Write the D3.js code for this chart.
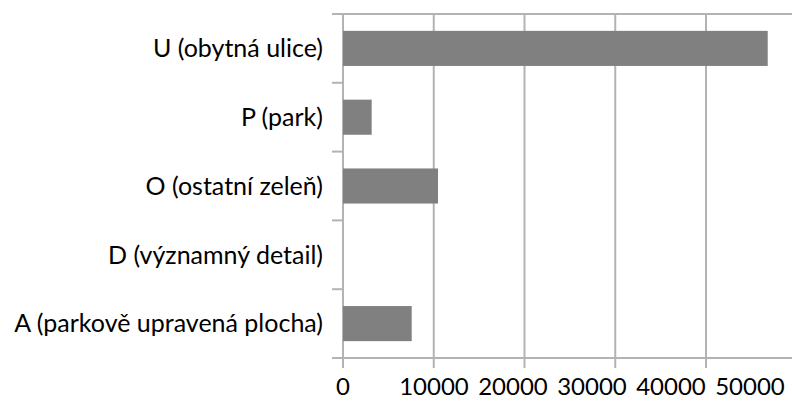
<!DOCTYPE html>
<html>
<head>
<meta charset="utf-8">
<script src="https://cdn.jsdelivr.net/npm/d3@7"></script>
<style>
  body { margin: 0; background: #fff; }
  text { font-family: Lato, "Open Sans", sans-serif; fill: #000; }
</style>
</head>
<body>
<div id="chart"></div>
<script>
// data
var categories = ["U (obytná ulice)", "P (park)", "O (ostatní zeleň)", "D (významný detail)", "A (parkově upravená plocha)"];
var values = [46800, 3160, 10470, 0, 7570];
var tickValues = [0, 10000, 20000, 30000, 40000, 50000];

var width = 792, height = 401;
var margin = { top: 14, left: 343, bottom: 43 };
var plotH = height - margin.top - margin.bottom;

var svg = d3.select("#chart").append("svg")
    .attr("width", width)
    .attr("height", height);

// scales
var x = d3.scaleLinear().domain([0, 50000]).range([margin.left, margin.left + 453.75]);
var y = d3.scaleBand().domain(categories).range([margin.top, margin.top + plotH]).paddingInner(0.49).paddingOuter(0.245);
var yEdges = d3.scaleLinear().domain([0, categories.length]).range([margin.top, margin.top + plotH]);
// tick labels in the picture sit closer together than the gridlines
var xLabel = d3.scaleLinear().domain([0, 10000, 50000]).range([343, 434, 750]);

var grey = "#b3b3b3";

// vertical gridlines
svg.append("g")
    .selectAll("line")
    .data(tickValues)
    .enter().append("line")
    .attr("x1", function (d) { return x(d); })
    .attr("x2", function (d) { return x(d); })
    .attr("y1", margin.top)
    .attr("y2", margin.top + plotH + 10)
    .attr("stroke", grey)
    .attr("stroke-width", 2);

// horizontal edge lines (top and axis)
svg.append("g")
    .selectAll("line")
    .data([0, categories.length])
    .enter().append("line")
    .attr("x1", 332)
    .attr("x2", width)
    .attr("y1", function (d) { return yEdges(d); })
    .attr("y2", function (d) { return yEdges(d); })
    .attr("stroke", grey)
    .attr("stroke-width", 2);

// category ticks
svg.append("g")
    .selectAll("line")
    .data(d3.range(1, categories.length))
    .enter().append("line")
    .attr("x1", 332)
    .attr("x2", margin.left)
    .attr("y1", function (d) { return yEdges(d); })
    .attr("y2", function (d) { return yEdges(d); })
    .attr("stroke", grey)
    .attr("stroke-width", 2);

// bars
svg.append("g")
    .selectAll("rect")
    .data(values)
    .enter().append("rect")
    .attr("x", x(0))
    .attr("y", function (d, i) { return y(categories[i]); })
    .attr("width", function (d) { return x(d) - x(0); })
    .attr("height", y.bandwidth())
    .attr("fill", "#808080");

// category labels
svg.append("g")
    .selectAll("text")
    .data(categories)
    .enter().append("text")
    .attr("x", 323)
    .attr("y", function (d) { return y(d) + y.bandwidth() / 2; })
    .attr("dy", "0.35em")
    .attr("text-anchor", "end")
    .style("font-size", "25px")
    .text(function (d) { return d; });

// value labels
svg.append("g")
    .selectAll("text")
    .data(tickValues)
    .enter().append("text")
    .attr("x", function (d) { return xLabel(d); })
    .attr("y", 395)
    .attr("text-anchor", "middle")
    .style("font-size", "24px")
    .text(function (d) { return d; });
</script>
</body>
</html>
